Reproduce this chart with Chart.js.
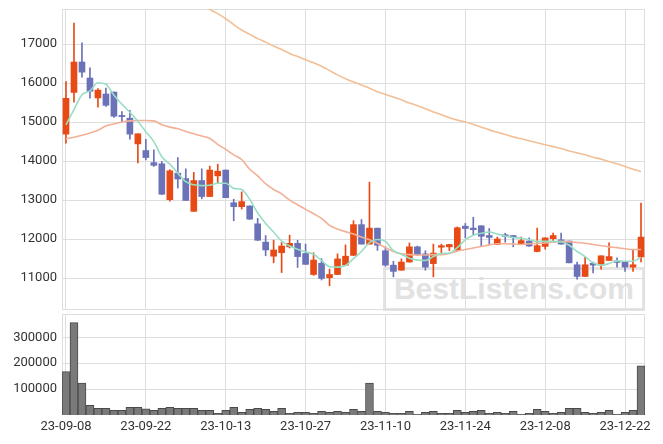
<!DOCTYPE html>
<html><head><meta charset="utf-8">
<script src="https://cdn.jsdelivr.net/npm/chart.js@4"></script>
<style>
html,body{margin:0;padding:0;background:#fff;}
#wrap{position:relative;width:663px;height:444px;overflow:hidden;background:#fff;}
#wm{position:absolute;left:383px;top:267px;width:256px;height:38px;border:3px solid #e4e4e4;color:#e2e2e2;font:bold 30px "Liberation Sans",Arial,sans-serif;line-height:38px;text-align:center;}
#c1{position:absolute;left:0;top:0;}
#c2{position:absolute;left:0;top:311px;}
</style></head>
<body><div id="wrap"><div id="wm">BestListens.com</div>
<canvas id="c1" width="663" height="312"></canvas>
<canvas id="c2" width="663" height="133"></canvas>
</div>
<script>
const dates = ["23-09-08","23-09-11","23-09-12","23-09-13","23-09-14","23-09-15","23-09-18","23-09-19","23-09-20","23-09-21",
"23-09-22","23-09-25","23-09-26","23-09-27","23-10-04","23-10-05","23-10-06","23-10-10","23-10-11","23-10-12",
"23-10-13","23-10-16","23-10-17","23-10-18","23-10-19","23-10-20","23-10-23","23-10-24","23-10-25","23-10-26",
"23-10-27","23-10-30","23-10-31","23-11-01","23-11-02","23-11-03","23-11-06","23-11-07","23-11-08","23-11-09",
"23-11-10","23-11-13","23-11-14","23-11-15","23-11-16","23-11-17","23-11-20","23-11-21","23-11-22","23-11-23",
"23-11-24","23-11-27","23-11-28","23-11-29","23-11-30","23-12-01","23-12-04","23-12-05","23-12-06","23-12-07",
"23-12-08","23-12-11","23-12-12","23-12-13","23-12-14","23-12-15","23-12-18","23-12-19","23-12-20","23-12-21",
"23-12-22","23-12-26","23-12-27"];

const opens = [14690,15760,16540,16130,15620,15720,15770,15170,15100,14440,
14270,13960,13930,13010,13690,13550,12710,13500,13090,13620,
13770,12930,12830,12850,12390,11920,11560,11650,11800,11890,
11630,11090,11380,11010,11090,11330,11580,12370,11870,12280,
11700,11330,11200,11410,11800,11620,11370,11790,11800,11710,
12330,12280,12340,12090,11860,12110,12090,11870,11950,11680,
11810,12010,11980,11950,11340,11040,11380,11330,11450,11440,
11420,11280,11540];
const highs = [16040,17540,17030,16390,15860,15870,15770,15270,15300,14700,
14560,14290,13990,13780,14090,13800,13710,13800,13870,13920,
13770,13020,13210,12850,12530,12090,11970,11910,12100,11970,
11870,11650,11500,11230,11620,11850,12470,12500,13460,12280,
11800,11430,11490,11900,11820,11700,11870,11870,11860,12310,
12400,12560,12340,12270,12050,12150,12090,12050,12030,12280,
12030,12150,12150,11950,11410,11530,11410,11570,11900,11520,
11420,11730,12920];
const lows = [14460,15510,16150,15610,15380,15400,15120,15000,14560,13950,
14030,13860,13140,12970,13310,12990,12710,13030,13090,13430,
13060,12470,12770,12500,11960,11570,11390,11140,11770,11270,
11350,11070,10950,10800,11090,11330,11580,11870,11870,11710,
11300,11030,11200,11410,11580,11200,11030,11600,11700,11710,
12030,12090,11830,11860,11860,11920,11800,11870,11810,11670,
11740,11960,11870,11390,10970,11040,11130,11230,11450,11280,
11170,11170,11410];
const closes = [15610,16540,16280,15790,15820,15430,15150,15140,14690,14700,
14090,13890,13150,13750,13540,12990,13500,13090,13770,13740,
13060,12830,12960,12510,11970,11720,11720,11820,11890,11550,
11350,11460,10990,11090,11490,11560,12370,11870,12280,11840,
11330,11170,11410,11800,11600,11280,11640,11830,11860,12290,
12270,12240,12070,12040,12000,12070,12040,11960,11820,11830,
12030,12090,11870,11390,11040,11340,11330,11570,11550,11400,
11280,11340,12050];
const ma5 = [14930,15320,15700,15800,16010,15970,15690,15460,15250,15020,
14750,14500,14110,13920,13690,13470,13390,13370,13380,13430,
13430,13300,13270,13020,12670,12400,12180,11950,11820,11740,
11670,11610,11450,11290,11280,11320,11500,11680,11910,11990,
11940,11700,11610,11510,11460,11450,11550,11630,11640,11780,
11980,12100,12150,12180,12130,12080,12040,12020,11980,11940,
11940,11940,11930,11840,11680,11550,11390,11330,11370,11440,
11430,11430,11530];
const ma20 = [14570,14610,14660,14720,14790,14900,14950,15000,15030,15040,
15040,15030,14930,14870,14830,14760,14700,14640,14580,14430,
14300,14160,14040,13790,13620,13420,13270,13160,13000,12880,
12760,12650,12530,12350,12260,12190,12130,12050,11980,11890,
11780,11680,11620,11600,11590,11590,11600,11600,11630,11690,
11730,11770,11810,11850,11880,11880,11870,11860,11880,11890,
11900,11920,11940,11930,11910,11890,11860,11830,11800,11780,
11750,11730,11730];
const ma60 = [null,null,null,null,null,null,null,null,null,null,
null,null,null,null,null,null,null,18080,17890,17780,
17650,17500,17360,17250,17140,17050,16950,16860,16760,16680,
16600,16520,16430,16320,16210,16110,16030,15950,15870,15780,
15710,15640,15570,15490,15420,15340,15260,15190,15110,15050,
15000,14940,14870,14800,14740,14680,14620,14570,14520,14470,
14420,14370,14320,14260,14210,14160,14100,14050,13990,13930,
13860,13790,13730];
const volumes = [167500,357000,123400,37700,26000,26000,18200,18200,29900,29900,
23400,18200,26000,29900,26000,26000,26000,18200,18200,6500,
18200,29900,10400,22000,26000,22000,14300,26000,6500,10400,
10400,6500,14300,10400,14300,10400,22000,14300,123400,14300,
10400,6500,6500,14300,2600,10400,14300,6500,6500,18200,
10400,14300,18200,6500,10400,6500,14300,2600,6500,22000,
14300,6500,10400,26000,26000,10400,6500,10400,18200,2600,
10400,18200,189600];
const priceTicks = [11000,12000,13000,14000,15000,16000,17000];
const volumeTicks = [100000,200000,300000];

const UP = '#e84a16', DOWN = '#6b72b8';
const GRID = '#dedede';
const TXT = '#333';
Chart.defaults.font.family = 'Roboto, "Liberation Sans", sans-serif';
Chart.defaults.font.size = 13;
Chart.defaults.color = TXT;
Chart.defaults.animation = false;

const boxPlugin = {
  id: 'box',
  beforeDatasetsDraw(chart) {
    const a = chart.chartArea, ctx = chart.ctx;
    ctx.save();
    ctx.strokeStyle = GRID;
    ctx.lineWidth = 1;
    ctx.strokeRect(Math.round(a.left) + 0.5, Math.round(a.top) + 0.5,
      Math.round(a.right - a.left) - 1, Math.round(a.bottom - a.top) - 1);
    ctx.restore();
  }
};

const colorOf = i => closes[i] >= opens[i] ? UP : DOWN;
const colors = dates.map((d, i) => colorOf(i));
const xGridColor = c => (c.index % 10 === 0 ? GRID : 'rgba(0,0,0,0)');

new Chart(document.getElementById('c1'), {
  type: 'bar',
  data: {
    labels: dates,
    datasets: [
      { type: 'line', label: 'MA5', data: ma5, borderColor: '#97dec5', borderWidth: 1.6, pointRadius: 0, cubicInterpolationMode: 'monotone', order: 0 },
      { type: 'line', label: 'MA20', data: ma20, borderColor: '#f3b096', borderWidth: 1.6, pointRadius: 0, cubicInterpolationMode: 'monotone', order: 0 },
      { type: 'line', label: 'MA60', data: ma60, borderColor: '#f2bf96', borderWidth: 1.6, pointRadius: 0, cubicInterpolationMode: 'monotone', order: 0 },
      { label: 'body', data: dates.map((d, i) => [opens[i], closes[i]]), backgroundColor: colors, barThickness: 6, grouped: false, order: 1, minBarLength: 1 },
      { label: 'wick', data: dates.map((d, i) => [lows[i], highs[i]]), backgroundColor: colors, barThickness: 1, grouped: false, order: 2 }
    ]
  },
  options: {
    responsive: false,
    animation: false,
    layout: { padding: { top: 9, right: 18, bottom: 2, left: 0 } },
    plugins: { legend: { display: false }, tooltip: { enabled: false } },
    scales: {
      x: {
        offset: true,
        grid: { offset: false, color: xGridColor, drawTicks: false },
        border: { display: false },
        ticks: { display: false, autoSkip: false }
      },
      y: {
        min: 10180, max: 17900,
        afterBuildTicks: s => { s.ticks = priceTicks.map(v => ({ value: v })); },
        afterFit: s => { s.width = 62; s.paddingTop = 0; s.paddingBottom = 0; },
        grid: { color: GRID, drawTicks: false },
        border: { display: false },
        ticks: { padding: 5, callback: v => String(v) }
      }
    }
  },
  plugins: [boxPlugin]
});

new Chart(document.getElementById('c2'), {
  type: 'bar',
  data: {
    labels: dates,
    datasets: [
      { label: 'volume', data: volumes, backgroundColor: '#7a7a7a', borderColor: '#4a4a4a', borderWidth: 1, barPercentage: 1, categoryPercentage: 1 }
    ]
  },
  options: {
    responsive: false,
    animation: false,
    layout: { padding: { top: 3, right: 18, bottom: 0, left: 0 } },
    plugins: { legend: { display: false }, tooltip: { enabled: false } },
    scales: {
      x: {
        offset: true,
        grid: { offset: false, color: xGridColor, drawTicks: false },
        border: { display: false },
        ticks: { autoSkip: false, maxRotation: 0, padding: 4, callback: (v, i) => (i % 10 === 0 ? dates[i] : '') },
        afterFit: s => { s.height = 29; }
      },
      y: {
        min: 0, max: 390000,
        afterBuildTicks: s => { s.ticks = volumeTicks.map(v => ({ value: v })); },
        afterFit: s => { s.width = 62; s.paddingTop = 0; s.paddingBottom = 0; },
        grid: { color: GRID, drawTicks: false },
        border: { display: false },
        ticks: { padding: 5, callback: v => String(v) }
      }
    }
  },
  plugins: [boxPlugin]
});
</script>
</body></html>
